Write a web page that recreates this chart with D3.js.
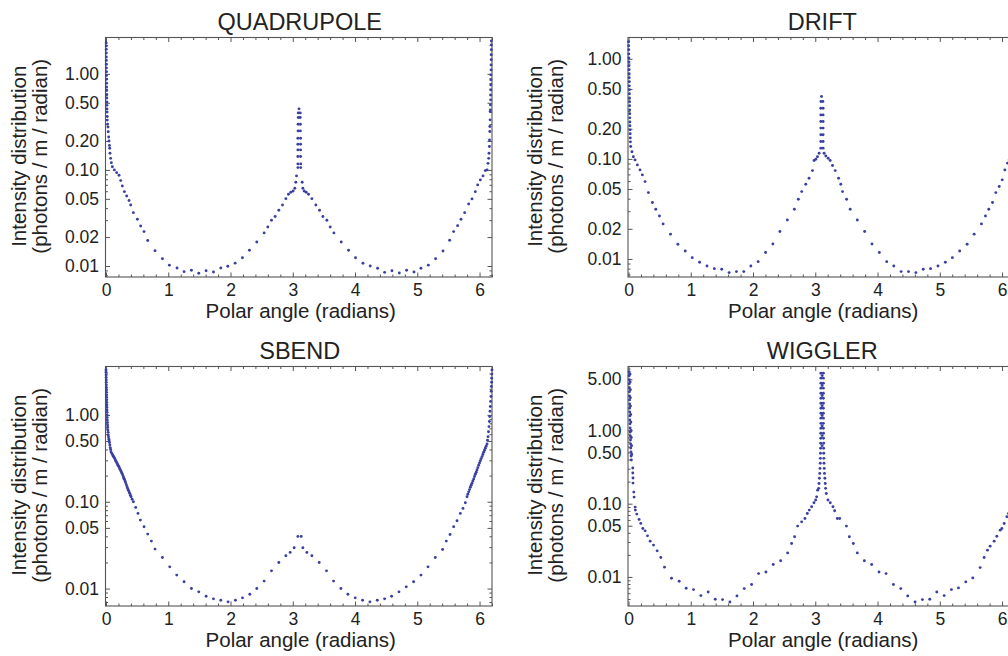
<!DOCTYPE html>
<html>
<head>
<meta charset="utf-8">
<script src="https://cdn.jsdelivr.net/npm/d3@7"></script>
<style>
  body { margin: 0; background: #fff; }
  svg { display: block; background: #fff; }
  text { font-family: "Liberation Sans", Arial, Helvetica, sans-serif; fill: #222; }
</style>
</head>
<body>
<div id="chart"></div>
<script>
/* Photon intensity vs polar angle, four element types */

const panelTitles = ["QUADRUPOLE", "DRIFT", "SBEND", "WIGGLER"];
const angleTicks = [0, 1, 2, 3, 4, 5, 6];
const fineTicks = [0.01, 0.02, 0.05, 0.1, 0.2, 0.5, 1];
const sbendTicks = [0.01, 0.05, 0.1, 0.5, 1];
const wigglerTicks = [0.01, 0.05, 0.1, 0.5, 1, 5];
const xTitle = "Polar angle (radians)";
const yTitle = ["Intensity distribution", "(photons / m / radian)"];

// [angle (rad), intensity]
const quadrupole = [
  [0.003,2.10],[0.004,1.95],[0.005,1.80],[0.005,1.65],[0.006,1.50],[0.006,1.38],[0.007,1.26],[0.007,1.15],
  [0.008,1.05],[0.008,0.96],[0.009,0.88],[0.009,0.80],[0.010,0.73],[0.011,0.67],[0.012,0.61],[0.013,0.56],
  [0.014,0.51],[0.015,0.47],[0.016,0.43],[0.018,0.40],[0.020,0.36],[0.021,0.33],[0.026,0.30],[0.032,0.28],
  [0.036,0.25],[0.043,0.22],[0.048,0.20],[0.055,0.18],[0.059,0.168],[0.064,0.149],[0.075,0.132],[0.086,0.119],
  [0.102,0.108],[0.134,0.100],[0.171,0.0937],[0.209,0.088],[0.236,0.0774],[0.262,0.068],[0.295,0.0594],
  [0.332,0.0536],[0.370,0.048],[0.397,0.0432],[0.439,0.0359],[0.504,0.0306],[0.557,0.0261],[0.611,0.0228],
  [0.670,0.0184],[0.788,0.0144],[0.906,0.0119],[1.018,0.0102],[1.141,0.00953],[1.254,0.00873],[1.372,0.00902],
  [1.490,0.0084],[1.608,0.00893],[1.726,0.00865],[1.844,0.00953],[1.956,0.00993],[2.074,0.0107],[2.191,0.0122],
  [2.304,0.0146],[2.422,0.0178],[2.540,0.0221],[2.599,0.0255],[2.658,0.0299],[2.717,0.0327],[2.776,0.038],
  [2.835,0.0432],[2.889,0.0502],[2.931,0.0558],[2.969,0.0585],[3.006,0.0604],[3.033,0.0645],[3.049,0.0745],
  [3.060,0.0866],
  [3.082,0.1057],[3.082,0.1155],[3.082,0.1377],[3.082,0.1616],[3.082,0.185],[3.082,0.2138],[3.085,0.2548],
  [3.085,0.299],[3.088,0.351],[3.088,0.392],[3.100,0.432],
  [3.120,0.392],[3.120,0.351],[3.122,0.299],[3.122,0.2548],[3.125,0.2138],[3.125,0.185],[3.125,0.1616],
  [3.125,0.1377],[3.128,0.1155],[3.128,0.1057],
  [3.151,0.0745],[3.162,0.0645],[3.183,0.0604],[3.215,0.0585],[3.253,0.0558],[3.307,0.0502],[3.371,0.0432],
  [3.430,0.038],[3.484,0.0327],[3.548,0.0299],[3.601,0.0255],[3.661,0.0221],[3.778,0.0178],[3.896,0.0146],
  [4.008,0.0122],[4.127,0.01067],[4.244,0.0100],[4.362,0.00946],[4.475,0.00859],[4.593,0.00893],[4.711,0.00846],
  [4.828,0.00902],[4.947,0.00865],[5.059,0.00946],[5.177,0.0102],[5.294,0.0119],[5.413,0.0143],[5.520,0.0185],
  [5.584,0.0228],[5.648,0.0263],[5.702,0.0306],[5.761,0.0359],[5.825,0.0442],[5.879,0.0499],[5.932,0.0594],
  [5.970,0.0698],[6.013,0.0787],[6.056,0.0866],[6.093,0.0984],[6.120,0.100],[6.136,0.117],[6.147,0.132],
  [6.152,0.149],[6.158,0.175],[6.160,0.205],[6.165,0.251],[6.165,0.283],[6.170,0.332],[6.170,0.405],
  [6.175,0.422],[6.175,0.475],[6.178,0.536],[6.178,0.604],[6.180,0.681],[6.180,0.767],[6.182,0.866],
  [6.182,0.976],[6.185,1.10],[6.185,1.24],[6.187,1.40],[6.187,1.58],[6.190,1.78],[6.190,2.00],[6.190,2.20]
];

const drift = [
  [0.002,1.48],[0.003,1.35],[0.004,1.23],[0.005,1.12],[0.006,1.02],[0.007,0.933],[0.008,0.851],[0.009,0.776],
  [0.010,0.708],[0.011,0.646],[0.012,0.589],[0.013,0.537],[0.014,0.49],[0.015,0.447],[0.016,0.407],[0.017,0.372],
  [0.018,0.339],[0.019,0.309],[0.020,0.282],[0.021,0.257],[0.022,0.234],[0.023,0.214],[0.025,0.195],[0.027,0.178],
  [0.029,0.162],[0.031,0.148],[0.035,0.133],[0.056,0.118],[0.078,0.105],[0.105,0.0977],[0.142,0.0871],
  [0.185,0.0776],[0.223,0.0692],[0.266,0.0593],[0.320,0.046],[0.384,0.0366],[0.438,0.0314],[0.497,0.0269],
  [0.556,0.0224],[0.675,0.0177],[0.793,0.014],[0.911,0.012],[1.024,0.0103],[1.142,0.00927],[1.261,0.00851],
  [1.379,0.008],[1.497,0.00788],[1.616,0.0073],[1.734,0.00747],[1.852,0.00747],[1.965,0.00851],[2.083,0.0094],
  [2.202,0.0116],[2.319,0.0141],[2.432,0.0188],[2.551,0.0245],[2.664,0.0314],[2.728,0.0395],[2.782,0.0471],
  [2.847,0.0558],[2.900,0.0641],[2.955,0.0764],[2.981,0.0962],[3.008,0.0993],[3.035,0.105],[3.061,0.114],
  [3.089,0.128],[3.089,0.149],[3.089,0.174],[3.089,0.203],[3.089,0.236],[3.089,0.275],[3.089,0.321],[3.092,0.374],
  [3.100,0.42],
  [3.126,0.128],[3.126,0.149],[3.126,0.174],[3.126,0.203],[3.126,0.236],[3.126,0.275],[3.126,0.321],[3.122,0.374],
  [3.142,0.114],[3.169,0.107],[3.207,0.1016],[3.239,0.0962],[3.277,0.0858],[3.320,0.0764],[3.374,0.0641],
  [3.410,0.0558],[3.438,0.0471],[3.503,0.0395],[3.561,0.0314],[3.675,0.0245],[3.793,0.0188],[3.911,0.0141],
  [4.029,0.0116],[4.148,0.0094],[4.261,0.00851],[4.379,0.00747],[4.497,0.00747],[4.616,0.0073],[4.734,0.00788],
  [4.852,0.008],[4.971,0.00851],[5.089,0.00927],[5.202,0.0103],[5.319,0.012],[5.439,0.014],[5.552,0.0177],
  [5.669,0.0224],[5.734,0.0269],[5.787,0.0314],[5.847,0.0366],[5.900,0.046],[5.955,0.0529],[6.003,0.0617],
  [6.045,0.0776],[6.089,0.0906],[6.116,0.0977]
];

const sbend = [
  [0.000,3.30],[0.001,3.10],[0.002,2.89],[0.003,2.70],[0.004,2.53],[0.005,2.37],[0.006,2.22],[0.007,2.07],
  [0.008,1.94],[0.009,1.82],[0.010,1.70],[0.011,1.59],[0.012,1.49],[0.013,1.39],[0.014,1.30],[0.015,1.22],
  [0.016,1.14],[0.017,1.07],[0.018,1.00],[0.019,0.935],[0.021,0.875],[0.023,0.82],[0.025,0.767],[0.027,0.72],
  [0.030,0.671],[0.033,0.63],[0.037,0.588],[0.041,0.555],[0.046,0.524],[0.051,0.50],[0.056,0.480],[0.062,0.45],
  [0.068,0.42],[0.074,0.40],[0.080,0.377],[0.094,0.36],[0.107,0.346],[0.118,0.335],[0.129,0.325],[0.140,0.314],
  [0.150,0.303],[0.161,0.292],[0.172,0.282],[0.183,0.272],[0.193,0.263],[0.204,0.255],[0.214,0.247],[0.225,0.237],
  [0.236,0.228],[0.247,0.22],[0.257,0.212],[0.268,0.203],[0.279,0.194],[0.287,0.187],[0.295,0.181],[0.306,0.173],
  [0.316,0.166],[0.327,0.157],[0.338,0.149],[0.348,0.142],[0.359,0.136],[0.370,0.130],[0.381,0.125],[0.392,0.119],
  [0.402,0.114],[0.420,0.107],[0.439,0.100],[0.477,0.0861],[0.514,0.0734],[0.552,0.0615],[0.611,0.0515],
  [0.670,0.0424],[0.729,0.0352],[0.788,0.0285],[0.906,0.0228],[1.024,0.0178],[1.136,0.0143],[1.254,0.0120],
  [1.372,0.01002],[1.490,0.00917],[1.608,0.00817],[1.726,0.00762],[1.844,0.00735],[1.961,0.00703],[2.079,0.00735],
  [2.192,0.00782],[2.310,0.00861],[2.422,0.01002],[2.540,0.0122],[2.658,0.016],[2.776,0.02],[2.889,0.0239],
  [2.958,0.0261],[3.022,0.0295],[3.082,0.0399],[3.135,0.0399],[3.162,0.0295],[3.226,0.0261],[3.307,0.0239],
  [3.424,0.02],[3.542,0.016],[3.655,0.0122],[3.773,0.01002],[3.885,0.00861],[4.003,0.00782],[4.121,0.00735],
  [4.239,0.00703],[4.357,0.00735],[4.475,0.00762],[4.587,0.00817],[4.706,0.00917],[4.823,0.01047],[4.941,0.012],
  [5.059,0.0143],[5.172,0.0178],[5.289,0.0228],[5.407,0.0282],[5.466,0.0352],[5.526,0.042],[5.584,0.0515],
  [5.638,0.0604],[5.691,0.0734],[5.734,0.0838],[5.772,0.0975],[5.799,0.114],[5.812,0.122],[5.826,0.13],
  [5.839,0.138],[5.852,0.147],[5.866,0.155],[5.879,0.163],[5.892,0.173],[5.906,0.183],[5.919,0.195],[5.932,0.207],
  [5.946,0.219],[5.959,0.232],[5.972,0.247],[5.986,0.263],[5.999,0.28],[6.013,0.297],[6.026,0.314],[6.040,0.331],
  [6.053,0.35],[6.066,0.371],[6.080,0.392],[6.093,0.413],[6.106,0.437],[6.120,0.463],[6.128,0.51],[6.136,0.562],
  [6.144,0.64],[6.152,0.733],[6.158,0.84],[6.163,0.957],[6.168,1.10],[6.173,1.25],[6.178,1.43],[6.184,1.63],
  [6.187,1.87],[6.190,2.12],[6.193,2.38],[6.195,2.65],[6.198,2.95],[6.200,3.30]
];

const wiggler = [
  [0.010,6.31],[0.010,5.57],[0.012,4.91],[0.012,4.33],[0.014,3.81],[0.014,3.36],[0.016,2.96],[0.016,2.61],
  [0.018,2.30],[0.018,2.03],[0.020,1.79],[0.022,1.58],[0.022,1.39],[0.024,1.23],[0.026,1.08],[0.028,0.954],
  [0.030,0.841],[0.032,0.741],[0.034,0.653],[0.036,0.576],[0.040,0.508],[0.042,0.448],[0.046,0.395],
  [0.025,5.90],[0.027,4.60],[0.030,3.60],[0.030,2.80],[0.032,2.15],[0.035,1.65],[0.038,1.30],[0.040,1.00],
  [0.045,0.80],[0.050,0.62],[0.052,0.47],
  [0.069,0.307],[0.069,0.262],[0.072,0.224],[0.072,0.191],[0.085,0.144],[0.090,0.123],[0.107,0.0898],
  [0.110,0.0817],[0.133,0.0721],[0.170,0.061],[0.198,0.0538],[0.230,0.0459],[0.267,0.0426],[0.305,0.0364],
  [0.348,0.0308],[0.402,0.0272],[0.460,0.0227],[0.519,0.0184],[0.578,0.0136],[0.691,0.0096],[0.814,0.00873],
  [0.926,0.0070],[1.044,0.00671],[1.162,0.00556],[1.280,0.00624],[1.393,0.00495],[1.511,0.0049],[1.629,0.00455],
  [1.742,0.00551],[1.859,0.00693],[1.977,0.00787],[2.090,0.0111],[2.207,0.0117],[2.325,0.0148],[2.444,0.0166],
  [2.556,0.0213],[2.620,0.0286],[2.668,0.0353],[2.717,0.0494],[2.781,0.0565],[2.834,0.0628],[2.872,0.0735],
  [2.904,0.0817],[2.942,0.0908],[2.979,0.103],[3.006,0.112],[3.022,0.124],[3.038,0.153],
  [3.090,6.05],[3.090,5.17],[3.090,4.42],[3.090,3.78],[3.090,3.22],[3.090,2.75],[3.090,2.35],[3.090,2.01],
  [3.090,1.72],[3.090,1.47],[3.090,1.25],[3.090,1.07],[3.088,0.914],[3.088,0.782],[3.086,0.667],[3.086,0.570],
  [3.084,0.487],[3.082,0.416],[3.080,0.356],[3.076,0.303],[3.072,0.259],[3.066,0.222],[3.060,0.189],[3.055,0.162],
  [3.130,6.05],[3.130,5.17],[3.130,4.42],[3.130,3.78],[3.130,3.22],[3.130,2.75],[3.130,2.35],[3.130,2.01],
  [3.130,1.72],[3.130,1.47],[3.130,1.25],[3.130,1.07],[3.132,0.914],[3.132,0.782],[3.134,0.667],[3.134,0.570],
  [3.136,0.487],[3.138,0.416],[3.140,0.356],[3.144,0.303],[3.148,0.259],[3.154,0.222],[3.160,0.189],[3.166,0.162],
  [3.110,5.60],[3.110,4.10],[3.110,3.00],[3.110,2.18],[3.110,1.60],[3.110,1.16],[3.110,0.85],[3.110,0.62],
  [3.177,0.138],[3.204,0.112],[3.241,0.103],[3.284,0.0908],[3.311,0.080],[3.354,0.0628],[3.392,0.0628],
  [3.500,0.0494],[3.547,0.0353],[3.611,0.0286],[3.675,0.0213],[3.788,0.0166],[3.906,0.0148],[4.024,0.0117],
  [4.137,0.0111],[4.255,0.00787],[4.373,0.00693],[4.485,0.00551],[4.603,0.00455],[4.721,0.0049],[4.839,0.00495],
  [4.952,0.00624],[5.070,0.00556],[5.187,0.00671],[5.300,0.00708],[5.417,0.00855],[5.530,0.0097],[5.648,0.0134],
  [5.712,0.0184],[5.766,0.0232],[5.809,0.0263],[5.873,0.0308],[5.916,0.036],[5.970,0.0435],[5.997,0.0459],
  [6.034,0.0537],[6.077,0.0662],[6.104,0.0736]
];

// Page layout
const width = 1008, height = 656;
const frameW = 386.5, frameH = 239.5;
const dotColor = "#3a40a0", frameColor = "#555";

const panels = [
  { title: panelTitles[0], data: quadrupole, ticks: fineTicks,    left: 105.5, top: 37.5,  yMin: 0.00768, yMax: 2.39, yTitleX: -79.5 },
  { title: panelTitles[1], data: drift,      ticks: fineTicks,    left: 628,   top: 37.5,  yMin: 0.0066,  yMax: 1.633, yTitleX: -86 },
  { title: panelTitles[2], data: sbend,      ticks: sbendTicks,   left: 105.5, top: 366.5, yMin: 0.0063,  yMax: 3.61, yTitleX: -79.5 },
  { title: panelTitles[3], data: wiggler,    ticks: wigglerTicks, left: 628,   top: 366.5, yMin: 0.00401, yMax: 7.46, yTitleX: -86 }
];

let svg = d3.select("#chart")
  .append("svg")
  .attr("width", width)
  .attr("height", height)
  .attr("viewBox", [0, 0, width, height]);

// minor ticks on the log axis: every k*10^n that is not labelled
function minorLogTicks(min, max, majors) {
  let out = [];
  for (let n = Math.floor(Math.log10(min)); n <= Math.ceil(Math.log10(max)); n++) {
    for (let k = 1; k <= 9; k++) {
      let v = +(k * Math.pow(10, n)).toPrecision(3);
      if (v >= min && v <= max && !majors.some(m => Math.abs(m - v) < 1e-9)) out.push(v);
    }
  }
  return out;
}

const minorAngles = d3.range(0.2, 6.21, 0.2).filter(v => Math.abs(v - Math.round(v)) > 0.01);

function styleAxis(g) {
  g.select(".domain").remove();
  g.selectAll("line").attr("stroke", frameColor);
  g.selectAll("text")
    .style("font-size", "17.5px")
    .style("fill", "#222");
  g.attr("font-family", null).attr("font-size", null);
}

for (let p of panels) {
  const L = p.left, T = p.top, R = L + frameW, B = T + frameH;

  let x = d3.scaleLinear()
    .domain([0, 6.2])
    .range([L + 0.5, R]);

  let y = d3.scaleLog()
    .domain([p.yMin, p.yMax])
    .range([B, T]);

  let g = svg.append("g");

  // bottom + top (angle)
  g.append("g")
    .attr("transform", `translate(0,${B})`)
    .call(d3.axisBottom(x).tickValues(angleTicks).tickSize(-4.5).tickPadding(7).tickFormat(d3.format("d")))
    .call(styleAxis);
  g.append("g")
    .attr("transform", `translate(0,${B})`)
    .call(d3.axisBottom(x).tickValues(minorAngles).tickSize(-2.5).tickFormat(""))
    .call(styleAxis);
  g.append("g")
    .attr("transform", `translate(0,${T})`)
    .call(d3.axisTop(x).tickValues(angleTicks).tickSize(-4.5).tickFormat(""))
    .call(styleAxis);
  g.append("g")
    .attr("transform", `translate(0,${T})`)
    .call(d3.axisTop(x).tickValues(minorAngles).tickSize(-2.5).tickFormat(""))
    .call(styleAxis);

  // left + right (intensity, log)
  const minors = minorLogTicks(p.yMin, p.yMax, p.ticks);
  g.append("g")
    .attr("transform", `translate(${L},0)`)
    .call(d3.axisLeft(y).tickValues(p.ticks).tickSize(-4.5).tickPadding(6.5).tickFormat(d3.format(".2f")))
    .call(styleAxis);
  g.append("g")
    .attr("transform", `translate(${L},0)`)
    .call(d3.axisLeft(y).tickValues(minors).tickSize(-2.5).tickFormat(""))
    .call(styleAxis);
  g.append("g")
    .attr("transform", `translate(${R},0)`)
    .call(d3.axisRight(y).tickValues(p.ticks).tickSize(-4.5).tickFormat(""))
    .call(styleAxis);
  g.append("g")
    .attr("transform", `translate(${R},0)`)
    .call(d3.axisRight(y).tickValues(minors).tickSize(-2.5).tickFormat(""))
    .call(styleAxis);

  // frame
  g.append("rect")
    .attr("x", L).attr("y", T)
    .attr("width", frameW).attr("height", frameH)
    .attr("fill", "none")
    .attr("stroke", frameColor)
    .attr("stroke-width", 1.1);

  // points
  g.append("g")
    .selectAll("circle")
    .data(p.data)
    .join("circle")
    .attr("cx", d => x(d[0]))
    .attr("cy", d => y(d[1]))
    .attr("r", 1.45)
    .attr("fill", dotColor);

  // titles
  g.append("text")
    .attr("x", (L + R) / 2 + 1)
    .attr("y", T - 7.8)
    .attr("text-anchor", "middle")
    .style("font-size", "23.5px")
    .text(p.title);

  g.append("text")
    .attr("x", (L + R) / 2 + 2)
    .attr("y", B + 41)
    .attr("text-anchor", "middle")
    .style("font-size", "20.5px")
    .text(xTitle);

  yTitle.forEach((line, i) => {
    let bx = L + p.yTitleX + i * 21.3, cy = (T + B) / 2 - 1;
    g.append("text")
      .attr("transform", `translate(${bx},${cy}) rotate(-90)`)
      .attr("text-anchor", "middle")
      .style("font-size", "20.5px")
      .text(line);
  });
}
</script>
</body>
</html>
